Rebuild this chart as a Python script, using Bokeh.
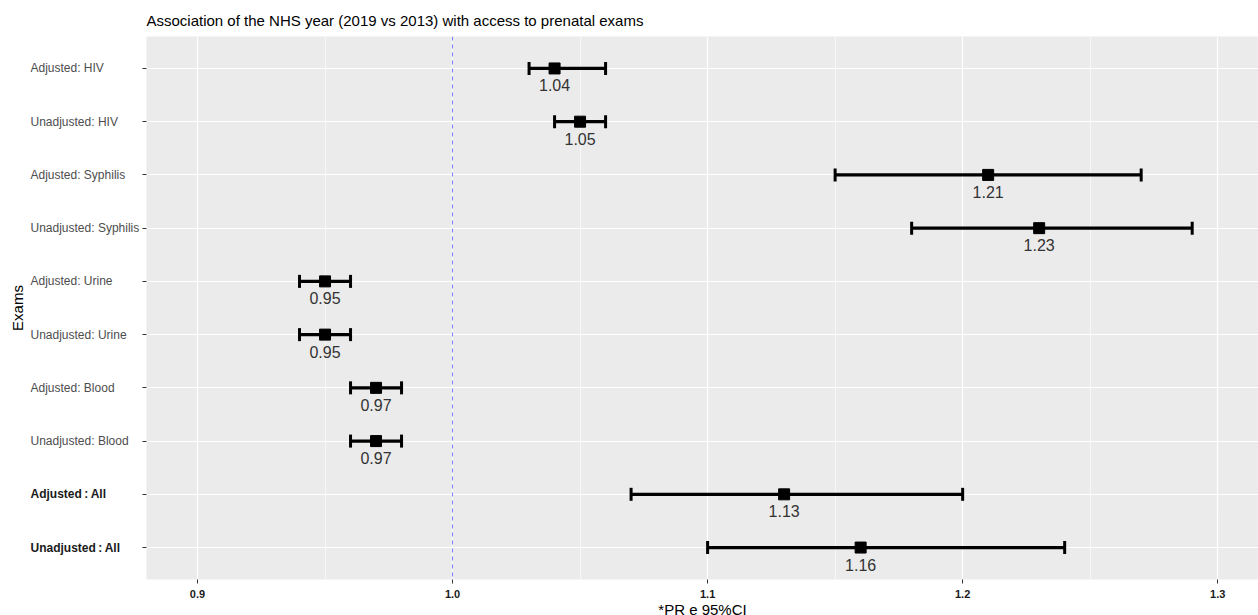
import math
from bokeh.plotting import figure
from bokeh.layouts import row
from bokeh.models import Range1d, FixedTicker, Span, Whisker, TeeHead, ColumnDataSource, PrintfTickFormatter
from bokeh.core.properties import value
from bokeh.embed import file_html
from bokeh.resources import INLINE

categories = ["Adjusted: HIV", "Unadjusted: HIV", "Adjusted: Syphilis", "Unadjusted: Syphilis",
              "Adjusted: Urine", "Unadjusted: Urine", "Adjusted: Blood", "Unadjusted: Blood",
              "Adjusted\u2009:\u2009All", "Unadjusted\u2009:\u2009All"]
bold_label = [False, False, False, False, False, False, False, False, True, True]
pr = [1.04, 1.05, 1.21, 1.23, 0.95, 0.95, 0.97, 0.97, 1.13, 1.16]
lower = [1.03, 1.04, 1.15, 1.18, 0.94, 0.94, 0.96, 0.96, 1.07, 1.10]
upper = [1.06, 1.06, 1.27, 1.29, 0.96, 0.96, 0.98, 0.98, 1.20, 1.24]
x_ticks = [0.9, 1.0, 1.1, 1.2, 1.3]
x_minor = [0.95, 1.05, 1.15, 1.25]
ref_line = 1.0

FONT = "Liberation Sans"
n = len(categories)
ypos = [n - i for i in range(n)]

src = ColumnDataSource(dict(y=ypos, pr=pr, lower=lower, upper=upper,
                            lab=["%.2f" % v for v in pr]))

X0, X1 = 0.88, 1.316
FRAME_W, FRAME_H = 1112, 543
TOP, BOTTOM = 36, 36
LEFT_W = 141
y_range = Range1d(0.4, n + 0.6)

# ---- main panel ----
p = figure(frame_width=FRAME_W, frame_height=FRAME_H,
           x_range=Range1d(X0, X1), y_range=y_range,
           output_backend="svg", toolbar_location=None,
           min_border_left=146 - LEFT_W, min_border_right=0,
           min_border_top=TOP, min_border_bottom=BOTTOM)

p.background_fill_color = "#EBEBEB"
p.border_fill_color = "white"
p.outline_line_color = None

p.title.text = "Association of the NHS year (2019 vs 2013) with access to prenatal exams"
p.title.text_font = FONT
p.title.text_font_size = "15px"
p.title.text_font_style = "normal"
p.title.text_color = "black"
p.title.align = "left"
p.title.standoff = 16

# x axis
p.xaxis.ticker = FixedTicker(ticks=x_ticks, minor_ticks=x_minor)
p.xaxis.formatter = PrintfTickFormatter(format="%.1f")
p.xaxis.axis_line_color = None
p.xaxis.minor_tick_line_color = None
p.xaxis.major_tick_out = 4
p.xaxis.major_tick_in = 0
p.xaxis.major_tick_line_color = "#333333"
p.xaxis.major_label_text_font = FONT
p.xaxis.major_label_text_font_size = "11px"
p.xaxis.major_label_text_font_style = "bold"
p.xaxis.major_label_text_color = "#1a1a1a"
p.xaxis.major_label_standoff = 6
p.xaxis.axis_label = "*PR e 95%CI"
p.xaxis.axis_label_text_font = FONT
p.xaxis.axis_label_text_font_size = "15px"
p.xaxis.axis_label_text_font_style = "normal"
p.xaxis.axis_label_text_color = "black"
p.xaxis.axis_label_standoff = 0

# y axis: ticks only (labels drawn in the side panel, left-aligned)
p.yaxis.ticker = FixedTicker(ticks=ypos)
p.yaxis.major_label_overrides = {float(y): "" for y in ypos}
p.yaxis.axis_line_color = None
p.yaxis.minor_tick_line_color = None
p.yaxis.major_tick_out = 4
p.yaxis.major_tick_in = 0
p.yaxis.major_tick_line_color = "#333333"
p.yaxis.major_label_standoff = 0

# grids
p.xgrid.grid_line_color = "white"
p.xgrid.grid_line_width = 1.2
p.xgrid.minor_grid_line_color = "white"
p.xgrid.minor_grid_line_width = 0.6
p.ygrid.ticker = FixedTicker(ticks=ypos)
p.ygrid.grid_line_color = "white"
p.ygrid.grid_line_width = 1.2

# reference line
p.add_layout(Span(location=ref_line, dimension="height", line_color="#7B7BFF",
                  line_dash="4 4", line_width=1))

# error bars
wh = Whisker(source=src, base="y", lower="lower", upper="upper", dimension="width",
             line_color="black", line_width=3.2,
             upper_head=TeeHead(size=13, line_width=3, line_color="black"),
             lower_head=TeeHead(size=13, line_width=3, line_color="black"))
p.add_layout(wh)

p.scatter(x="pr", y="y", source=src, marker="square", size=11, color="black")

p.text(x="pr", y="y", text="lab", source=src, y_offset=17, text_align="center",
       text_baseline="middle", text_font=value(FONT), text_font_size="16px",
       text_color="#333333")

# ---- side panel with category labels ----
lab_src = ColumnDataSource(dict(
    x=[30] * n, y=ypos, text=categories,
    style=["bold" if b else "normal" for b in bold_label],
    color=["#1a1a1a" if b else "#4D4D4D" for b in bold_label]))

side = figure(frame_width=LEFT_W, frame_height=FRAME_H,
              x_range=Range1d(0, LEFT_W), y_range=y_range,
              x_axis_location=None, y_axis_location=None,
              output_backend="svg", toolbar_location=None,
              min_border_left=0, min_border_right=0,
              min_border_top=TOP, min_border_bottom=BOTTOM)
side.grid.visible = False
side.outline_line_color = None
side.background_fill_color = "white"
side.border_fill_color = "white"
side.text(x="x", y="y", text="text", source=lab_src, text_align="left",
          text_baseline="middle", text_font=value(FONT), text_font_size="12px",
          text_font_style="style", text_color="color")
side.text(x=[17], y=[(y_range.start + y_range.end) / 2], text=["Exams"], angle=math.pi / 2,
          text_align="center", text_baseline="middle", text_font=value(FONT),
          text_font_size="15px", text_color="black")

layout = row(side, p, spacing=0)
open("out.html", "w").write(file_html(layout, INLINE))
